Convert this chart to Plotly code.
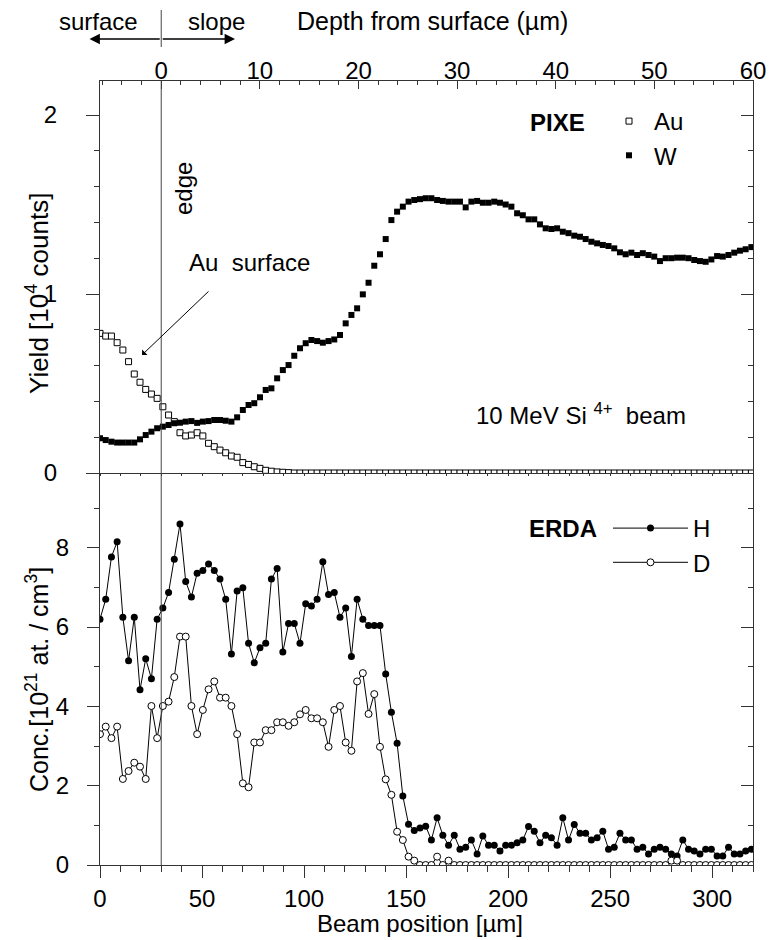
import plotly.graph_objects as go

# ---------------- data ----------------
BEAM_STEP = 2.8          # µm between successive beam positions
N_POINTS = 115
beam_position = [round(i * BEAM_STEP, 1) for i in range(N_POINTS)]

# PIXE yields [10^4 counts]
pixe_au = [0.78, 0.765, 0.765, 0.728, 0.687, 0.622, 0.553, 0.507, 0.467, 0.441,
           0.417, 0.37, 0.324, 0.287, 0.225, 0.207, 0.212, 0.225, 0.207, 0.166,
           0.147, 0.128, 0.113, 0.095, 0.088, 0.058, 0.048, 0.035, 0.026, 0.015,
           0.01, 0.006, 0.004, 0.002] + [0.0] * 81

pixe_w = [0.194, 0.184, 0.175, 0.17, 0.17, 0.17, 0.17, 0.188, 0.212, 0.231,
          0.25, 0.259, 0.268, 0.278, 0.281, 0.287, 0.29, 0.28, 0.287, 0.29,
          0.296, 0.296, 0.292, 0.287, 0.311, 0.352, 0.38, 0.39, 0.423, 0.464,
          0.473, 0.529, 0.575, 0.603, 0.655, 0.697, 0.725, 0.743, 0.737, 0.728,
          0.737, 0.746, 0.771, 0.836, 0.883, 0.92, 0.998, 1.063, 1.158, 1.222,
          1.307, 1.413,
          1.46, 1.488, 1.516, 1.525, 1.53, 1.535, 1.535, 1.525, 1.52, 1.516,
          1.516, 1.516, 1.484, 1.516, 1.52, 1.51, 1.51, 1.516, 1.51, 1.50,
          1.488, 1.451, 1.44, 1.417, 1.417, 1.389, 1.367, 1.363, 1.367, 1.348,
          1.34, 1.326, 1.32, 1.307, 1.292, 1.283, 1.274, 1.268, 1.255, 1.233,
          1.222, 1.231, 1.218, 1.228, 1.218, 1.209, 1.184, 1.2, 1.2, 1.203,
          1.203, 1.2, 1.19, 1.184, 1.18, 1.193, 1.212, 1.209, 1.218, 1.231,
          1.242, 1.25, 1.262]

# ERDA concentrations [10^21 at./cm^3]
erda_h = [6.2, 6.70, 7.77, 8.15, 6.25, 5.15, 6.25, 4.42, 5.2, 4.70,
          6.2, 6.48, 6.87, 7.71, 8.60, 7.15, 6.76, 7.36, 7.43, 7.59,
          7.43, 7.21, 6.70, 5.32, 6.91, 6.99, 5.59, 5.10, 5.48, 5.59,
          7.21, 7.48, 5.37, 6.09, 6.09, 5.59, 6.59, 6.53, 6.70, 7.65,
          6.82, 6.87, 6.25, 6.48, 5.26, 6.70, 6.2, 6.04, 6.04, 6.04,
          4.82, 3.85, 3.07, 1.74, 1.03, 0.87, 0.93, 0.98, 0.63, 1.19,
          0.75, 0.50, 0.75, 0.40, 0.45, 0.63, 0.28, 0.73, 0.50, 0.50,
          0.35, 0.50, 0.50, 0.56, 0.63, 0.97, 0.85, 0.56, 0.75, 0.69,
          0.50, 1.19, 0.63, 1.02, 0.80, 0.80, 0.63, 0.69, 0.85, 0.40,
          0.45, 0.80, 0.63, 0.63, 0.40, 0.45, 0.28, 0.40, 0.45, 0.40,
          0.28, 0.23, 0.63, 0.40, 0.35, 0.28, 0.40, 0.40, 0.23, 0.23,
          0.45, 0.28, 0.28, 0.35, 0.40]

erda_d = [3.30, 3.49, 3.20, 3.49, 2.17, 2.37, 2.58, 2.48, 2.17, 4.01,
          3.20, 4.01, 4.12, 4.74, 5.76, 5.76, 4.01, 3.30, 3.91, 4.43,
          4.63, 4.22, 4.22, 4.01, 3.30, 2.06, 1.96, 3.09, 3.09, 3.40,
          3.40, 3.60, 3.60, 3.51, 3.60, 3.80, 3.91, 3.70, 3.70, 3.60,
          2.98, 3.91, 4.01, 3.09, 2.88, 4.63, 4.84, 3.81, 4.31, 2.98,
          2.16, 1.77, 0.84, 0.63, 0.21, 0.11, 0.0, 0.0, 0.0, 0.21,
          0.0, 0.11] + [0.0] * 38 + [0.11, 0.11] + [0.0] * 13

EDGE_BEAM = 30.0     # beam position of the edge (depth 0)
BEAM_MAX = 320.0
DEPTH_MAX = 60.0
depth_min = -EDGE_BEAM * DEPTH_MAX / (BEAM_MAX - EDGE_BEAM)
YIELD_MAX = 2.19
CONC_MAX = 9.886

# ---------------- figure geometry (page pixels) ----------------
W, H = 769, 940
PL, PR, PT, PB = 100, 753, 81, 865   # plot area in page pixels
ML, MT, MR, MB = PL, PT, W - PR, H - PB
PW, PH = PR - PL, PB - PT
FONT = "Liberation Sans, Arial, sans-serif"
INK = "#000000"
AX = "#333333"


def px(xp):
    return (xp - PL) / PW


def py(yp):
    return (PB - yp) / PH


fig = go.Figure()

fig.add_trace(go.Scatter(
    x=beam_position, y=pixe_au, xaxis="x2", yaxis="y2", mode="markers", name="Au",
    marker=dict(symbol="square", size=6, color="white", line=dict(color=INK, width=1)),
    legend="legend"))
fig.add_trace(go.Scatter(
    x=beam_position, y=pixe_w, xaxis="x2", yaxis="y2", mode="markers", name="W",
    marker=dict(symbol="square", size=6, color=INK, line=dict(color=INK, width=0)),
    legend="legend"))
fig.add_trace(go.Scatter(
    x=beam_position, y=erda_h, xaxis="x", yaxis="y", mode="lines+markers", name="H",
    line=dict(color=INK, width=1),
    marker=dict(symbol="circle", size=7, color=INK, line=dict(color=INK, width=0)),
    legend="legend2"))
fig.add_trace(go.Scatter(
    x=beam_position, y=erda_d, xaxis="x", yaxis="y", mode="lines+markers", name="D",
    line=dict(color=INK, width=1),
    marker=dict(symbol="circle", size=7, color="white", line=dict(color=INK, width=1)),
    legend="legend2"))

# empty helper traces so the secondary (depth / right-side) axes get drawn
for xa, ya in (("x3", "y2"), ("x2", "y3"), ("x", "y4")):
    fig.add_trace(go.Scatter(x=[None], y=[None], xaxis=xa, yaxis=ya, mode="markers",
                             showlegend=False, hoverinfo="skip"))

common = dict(showgrid=False, zeroline=False, showline=True, linecolor=AX, linewidth=1,
              tickcolor=AX, tickwidth=1, tickfont=dict(family=FONT, size=24, color=INK))

fig.update_layout(
    width=W, height=H,
    margin=dict(l=ML, r=MR, t=MT, b=MB, autoexpand=False),
    paper_bgcolor="white", plot_bgcolor="white",
    font=dict(family=FONT, size=24, color=INK),
    xaxis=dict(domain=[0, 1], anchor="y", range=[0, BEAM_MAX], tick0=0, dtick=50,
               ticks="outside", ticklen=12, ticklabelstandoff=0,
               minor=dict(dtick=10, ticks="outside", ticklen=6, tickcolor=AX),
               **common),
    xaxis2=dict(domain=[0, 1], anchor="y2", matches="x", range=[0, BEAM_MAX],
                showticklabels=False, ticks="outside", ticklen=2, dtick=10, **common),
    xaxis3=dict(overlaying="x2", anchor="y2", side="top",
                range=[depth_min, DEPTH_MAX + 0.001],
                tick0=0, dtick=10, ticks="inside", ticklen=8, ticklabelstandoff=-9,
                minor=dict(dtick=2, ticks="inside", ticklen=4, tickcolor=AX),
                **common),
    yaxis=dict(domain=[0, 0.5], anchor="x", range=[0, CONC_MAX], tick0=0, dtick=2,
               ticks="outside", ticklen=12, ticklabelstandoff=13,
               minor=dict(dtick=1, ticks="outside", ticklen=5, tickcolor=AX),
               **common),
    yaxis2=dict(domain=[0.5, 1], anchor="x2", range=[0, YIELD_MAX], tick0=0, dtick=1,
                ticks="outside", ticklen=13, ticklabelstandoff=24,
                minor=dict(dtick=0.2, ticks="outside", ticklen=5, tickcolor=AX),
                **common),
    yaxis3=dict(overlaying="y2", anchor="x2", side="right", range=[0, YIELD_MAX],
                tick0=0, dtick=1, ticks="inside", ticklen=12, showticklabels=False,
                minor=dict(dtick=0.2, ticks="inside", ticklen=5, tickcolor=AX),
                **common),
    yaxis4=dict(overlaying="y", anchor="x", side="right", range=[0, CONC_MAX], tick0=0,
                dtick=2, ticks="inside", ticklen=12, showticklabels=False,
                minor=dict(dtick=1, ticks="inside", ticklen=5, tickcolor=AX),
                **common),
    legend=dict(x=px(604), xanchor="left", y=py(99), yanchor="top",
                bgcolor="rgba(0,0,0,0)", borderwidth=0, tracegroupgap=0,
                font=dict(family=FONT, size=24, color=INK), itemwidth=40),
    legend2=dict(x=px(608), xanchor="left", y=py(506), yanchor="top",
                 bgcolor="rgba(0,0,0,0)", borderwidth=0, tracegroupgap=0,
                 font=dict(family=FONT, size=24, color=INK), itemwidth=75),
    showlegend=True,
)

# edge line through both panels and the small marker above the top axis
fig.add_shape(type="line", xref="x", yref="paper", x0=EDGE_BEAM, x1=EDGE_BEAM,
              y0=0, y1=1, line=dict(color="#444444", width=1))
fig.add_shape(type="line", xref="x", yref="paper", x0=EDGE_BEAM, x1=EDGE_BEAM,
              y0=py(47), y1=py(10), line=dict(color="#444444", width=1))


def txt(text, xp, yp, size=24, angle=0, xanchor="center", yanchor="middle"):
    fig.add_annotation(text=text, xref="paper", yref="paper", x=px(xp), y=py(yp),
                       showarrow=False, textangle=angle, xanchor=xanchor,
                       yanchor=yanchor, font=dict(family=FONT, size=size, color=INK))


# titles
txt("Beam position [µm]", 420, 923)
txt("Yield [10<sup>4</sup> counts]", 37, 294, size=26, angle=-90)
txt("Conc.[10<sup>21</sup> at. / cm<sup>3</sup>]", 37, 680, size=25, angle=-90)
txt("Depth from surface (µm)", 432, 21, size=25)
txt("surface", 98, 21)
txt("slope", 216, 21)

# surface / slope arrows
edge_px = PL + EDGE_BEAM / BEAM_MAX * PW
for tip in (89.5, 235.0):
    fig.add_annotation(text="", xref="paper", yref="paper", x=px(tip), y=py(39),
                       ax=edge_px - tip, ay=0, axref="pixel", ayref="pixel",
                       showarrow=True, arrowhead=2, arrowsize=1.6, arrowwidth=1.3,
                       arrowcolor=INK)

# panel labels
txt("<b>PIXE</b>", 557, 122)
txt("<b>ERDA</b>", 563, 528)
txt("edge", 183, 189, angle=-90)
txt("Au\u00a0\u00a0surface", 249, 262)
txt("10 MeV Si\u00a0<sup>4+</sup>\u00a0\u00a0beam", 581, 414)

fig.add_annotation(text="", xref="paper", yref="paper", x=px(142), y=py(355),
                   ax=68, ay=-65, axref="pixel", ayref="pixel", showarrow=True,
                   arrowhead=1, arrowsize=1.3, arrowwidth=1, arrowcolor=INK)

# remove the default page margin so the figure fills the 769x940 window exactly
fig.write_html("out.html",
               config={"displayModeBar": False},
               post_script="document.body.style.margin='0px';"
                           "document.body.style.overflow='hidden';")
